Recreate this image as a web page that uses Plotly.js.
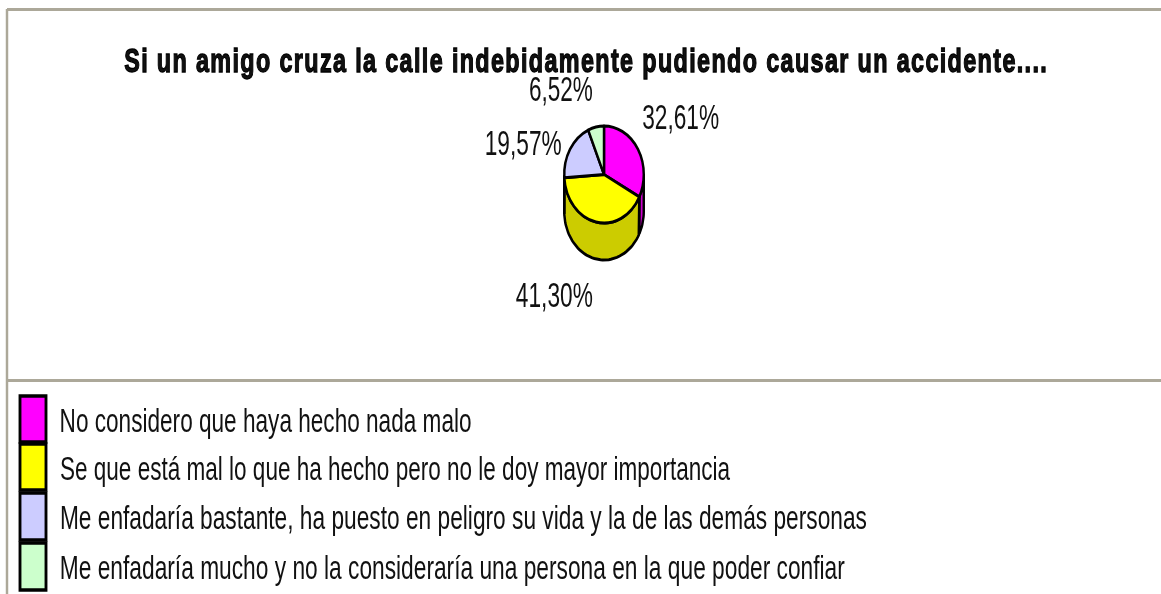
<!DOCTYPE html>
<html><head><meta charset="utf-8">
<script src="https://cdn.plot.ly/plotly-3.0.0.min.js"></script>
<style>
html,body{margin:0;padding:0;background:#fff;overflow:hidden;width:1161px;height:594px}
#chart{width:1416px;height:594px;transform:scaleX(0.82);transform-origin:0 0;filter:blur(0.55px)}
</style></head><body><div id="chart"></div>
<script>
const titleText = "Si un amigo cruza la calle indebidamente pudiendo causar un accidente....";
const categories = ["No considero que haya hecho nada malo",
 "Se que está mal lo que ha hecho pero no le doy mayor importancia",
 "Me enfadaría bastante, ha puesto en peligro su vida y la de las demás personas",
 "Me enfadaría mucho y no la consideraría una persona en la que poder confiar"];
const values = [32.61, 41.30, 19.57, 6.52];
const valueLabels = ["32,61%","41,30%","19,57%","6,52%"];
const colors = ["#ff00ff","#ffff00","#ccccff","#ccffcc"];
const wallColors = ["#cc00cc","#cccc00","#a3a3cc","#a3cca3"];

const K = 0.82, W = 1416, H = 594;
const sx = x => x / K;
const cx = sx(604), cy = 174.5, R = 48.5, depth = 37;
const total = values.reduce((a,b)=>a+b,0);

const traces = [];
// side wall of the cylinder, from the same values
let acc = 0;
values.forEach((v,i)=>{
  const a0 = acc/total*360, a1 = (acc+v)/total*360; acc += v;
  const s = Math.max(a0,90), e = Math.min(a1,270);
  if (e <= s) return;
  const xs=[], ys=[];
  for (let a=s;a<=e+0.01;a+=3){const r=a*Math.PI/180; xs.push(cx+R*Math.sin(r)); ys.push(cy-R*Math.cos(r));}
  for (let a=e;a>=s-0.01;a-=3){const r=a*Math.PI/180; xs.push(cx+R*Math.sin(r)); ys.push(cy-R*Math.cos(r)+depth);}
  xs.push(xs[0]); ys.push(ys[0]);
  traces.push({type:"scatter",mode:"lines",x:xs,y:ys,fill:"toself",fillcolor:wallColors[i],
    line:{color:"#000",width:3},hoverinfo:"skip",showlegend:false});
});
traces.push({type:"pie",labels:categories,values:values,sort:false,direction:"clockwise",rotation:0,
  marker:{colors:colors,line:{color:"#000",width:3}},textinfo:"none",showlegend:false,
  domain:{x:[(cx-R)/W,(cx+R)/W],y:[1-(cy+R)/H,1-(cy-R)/H]}});

const gray="#aca899";
const shapes=[
 {type:"line",xref:"x",yref:"y",x0:sx(7),x1:W,y0:9.5,y1:9.5,line:{color:gray,width:3}},
 {type:"line",xref:"x",yref:"y",x0:sx(7),x1:sx(7),y0:9,y1:H,line:{color:gray,width:3}},
 {type:"line",xref:"x",yref:"y",x0:sx(7),x1:W,y0:380.5,y1:380.5,line:{color:gray,width:3}}
];
const swatchTop=[396,444,493,543], swatchBot=[442,490,540,590];
colors.forEach((c,i)=>shapes.push({type:"rect",xref:"x",yref:"y",x0:sx(20),x1:sx(46),y0:swatchTop[i],y1:swatchBot[i],
  fillcolor:c,line:{color:"#000",width:3.5}}));

const font="'Liberation Sans',Arial,sans-serif";
const narrow="'Liberation Sans Narrow','Liberation Sans',Arial,sans-serif";
const ann=[], widths=[];
function add(text,x0,x1,y,size,family){
  ann.push({text:text,xref:"x",yref:"y",x:sx((x0+x1)/2),y:y,showarrow:false,
    font:{family:family,size:size,color:"#111"},xanchor:"center",yanchor:"middle"});
  widths.push((x1-x0)/K);
}
add("<b>"+titleText+"</b>",124,1048,60,34,narrow);
const labelSpan=[[642,719],[516,593],[485,562],[529,593]], labelY=[116,294,142,88];
valueLabels.forEach((t,i)=>add(t,labelSpan[i][0],labelSpan[i][1],labelY[i],36,font));
const legendEnd=[472,730,867,845], legendY=[420,468,517,567];
categories.forEach((t,i)=>add(t,60,legendEnd[i],legendY[i],33,font));

Plotly.newPlot("chart",traces,{
  width:W,height:H,margin:{l:0,r:0,t:0,b:0},paper_bgcolor:"#fff",plot_bgcolor:"#fff",showlegend:false,
  xaxis:{range:[0,W],visible:false,fixedrange:true},
  yaxis:{range:[H,0],visible:false,fixedrange:true},
  shapes:shapes,annotations:ann
},{displayModeBar:false,staticPlot:true}).then(()=>{
  document.querySelectorAll("#chart .annotation-text").forEach((el,i)=>{
    if(i===0){el.style.stroke="#000";el.style.strokeWidth="1.3px";el.style.letterSpacing="2px";}
    el.setAttribute("textLength",widths[i]);
    el.setAttribute("lengthAdjust","spacingAndGlyphs");
  });
});
</script></body></html>
